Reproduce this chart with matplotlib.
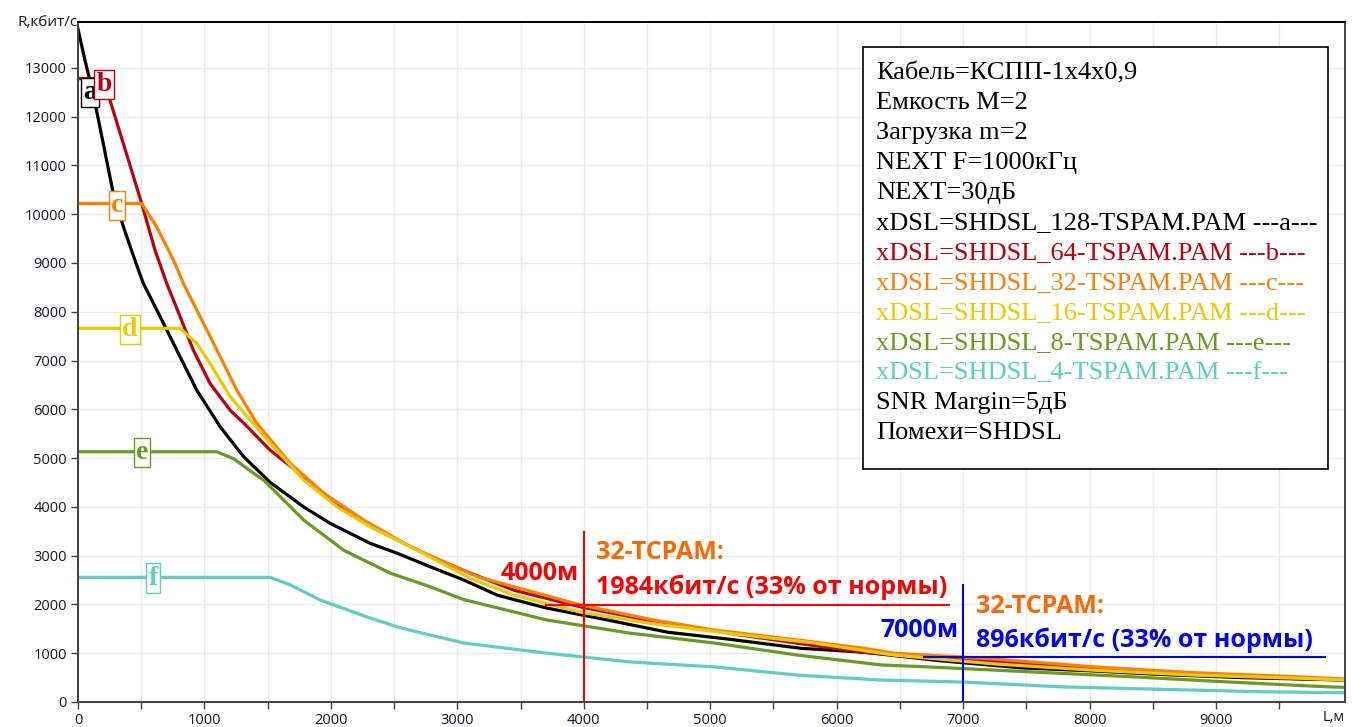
import numpy as np
import matplotlib.pyplot as plt
from matplotlib.patches import Rectangle

# Скорость R (кбит/с) в зависимости от длины линии L (м)
a_x = [0, 55, 120, 200, 280, 360, 450, 517, 650, 782, 940, 1125, 1310, 1521, 1785, 1996, 2313,
       2524, 2788, 3052, 3316, 3700, 4190, 4665, 5140, 5720, 6220, 6800, 7460, 8000, 8600, 9200, 10020]
a_y = [13800, 13160, 12470, 11450, 10420, 9740, 9060, 8580, 7900, 7210, 6390, 5640, 5030, 4500, 4000,
       3660, 3250, 3050, 2770, 2500, 2190, 1930, 1680, 1430, 1290, 1100, 1020, 850, 700, 640, 560, 500, 450]

b_x = [0, 200, 253, 359, 504, 610, 702, 808, 913, 1045, 1204, 1310, 1521, 1785, 2102, 2419, 2788,
       3105, 3450, 3975, 4505, 5245, 6195, 7000, 7800, 8600, 9400, 10020]
b_y = [12780, 12780, 12340, 11450, 10220, 9260, 8580, 7900, 7210, 6530, 5980, 5720, 5160, 4620, 3930,
       3460, 2980, 2640, 2290, 1950, 1680, 1370, 1020, 880, 730, 600, 500, 450]

c_x = [0, 504, 623, 755, 834, 966, 1125, 1257, 1415, 1679, 1943, 2260, 2630, 3158, 3450, 3975,
       4555, 5030, 5695, 6220, 6455, 7000, 7250, 8040, 8830, 9625, 10020]
c_y = [10220, 10220, 9740, 9060, 8580, 7900, 7080, 6390, 5710, 4890, 4280, 3730, 3180, 2570, 2360,
       1990, 1680, 1475, 1270, 1100, 1000, 920, 880, 720, 600, 520, 470]

d_x = [0, 808, 940, 1045, 1204, 1362, 1547, 1785, 2049, 2313, 2683, 3105, 3450, 3975, 4505, 5140,
       5820, 6455, 7250, 8040, 8830, 9625, 10020]
d_y = [7660, 7660, 7350, 6940, 6260, 5780, 5230, 4550, 4000, 3590, 3110, 2530, 2190, 1840, 1620,
       1410, 1210, 960, 780, 650, 550, 490, 450]

e_x = [0, 1098, 1230, 1389, 1468, 1600, 1785, 2102, 2471, 2788, 3050, 3710, 4370, 5030, 5695,
       6350, 6720, 7515, 8310, 9100, 9890, 10020]
e_y = [5130, 5130, 4990, 4690, 4550, 4210, 3730, 3110, 2640, 2360, 2100, 1680, 1410, 1210, 960,
       760, 720, 620, 520, 410, 310, 300]

f_x = [0, 1521, 1679, 1917, 2290, 2550, 3050, 3710, 4370, 5030, 5695, 6350, 6990, 7780, 8570, 9360, 10020]
f_y = [2555, 2555, 2400, 2090, 1740, 1520, 1210, 1000, 820, 720, 550, 450, 410, 310, 260, 210, 190]

series = [
    ("a", a_x, a_y, "#000000", 95, 12500),
    ("b", b_x, b_y, "#C00010", 206, 12660),
    ("c", c_x, c_y, "#FF7F00", 309, 10180),
    ("d", d_x, d_y, "#EBCB00", 412, 7640),
    ("e", e_x, e_y, "#6A9A1F", 507, 5120),
    ("f", f_x, f_y, "#5BCFC1", 594, 2540),
]

legend_lines = [
    ("Кабель=КСПП-1x4x0,9", "black"),
    ("Емкость M=2", "black"),
    ("Загрузка m=2", "black"),
    ("NEXT F=1000кГц", "black"),
    ("NEXT=30дБ", "black"),
    ("xDSL=SHDSL_128-TSPAM.PAM ---a---", "#000000"),
    ("xDSL=SHDSL_64-TSPAM.PAM ---b---", "#C00010"),
    ("xDSL=SHDSL_32-TSPAM.PAM ---c---", "#FF7F00"),
    ("xDSL=SHDSL_16-TSPAM.PAM ---d---", "#EBCB00"),
    ("xDSL=SHDSL_8-TSPAM.PAM ---e---", "#6A9A1F"),
    ("xDSL=SHDSL_4-TSPAM.PAM ---f---", "#5BCFC1"),
    ("SNR Margin=5дБ", "black"),
    ("Помехи=SHDSL", "black"),
]

# отметки 4000 м и 7000 м
mark1_L, mark1_R = 4000, 1984
mark2_L, mark2_R = 7000, 896

fig = plt.figure(figsize=(13.58, 7.27), dpi=100)
ax = fig.add_axes([0.0574, 0.0344, 0.933, 0.9353])

ax.set_xlim(0, 10020)
ax.set_ylim(0, 13940)
ax.set_xticks(np.arange(0, 9001, 1000))
ax.set_xticks(np.arange(500, 10001, 1000), minor=True)
ax.set_yticks(np.arange(0, 13001, 1000))
ax.grid(True, which="both", axis="x", color="#EBEBEB", lw=1)
ax.grid(True, which="major", axis="y", color="#EBEBEB", lw=1)
ax.set_axisbelow(True)
ax.tick_params(which="both", direction="out", length=5, width=1, color="#404040",
               labelsize=10.5, labelcolor="#15152A", pad=3)
for lbl in ax.get_xticklabels() + ax.get_yticklabels():
    lbl.set_family("Open Sans")
for s in ["left", "bottom", "right"]:
    ax.spines[s].set_color("#404040")
    ax.spines[s].set_linewidth(1.4)
ax.spines["top"].set_color("black")
ax.spines["top"].set_linewidth(1.4)

for name, xs, ys, col, lx, ly in series:
    ax.plot(xs, ys, color=col, lw=2.3, solid_joinstyle="round")
for name, xs, ys, col, lx, ly in series:
    ax.text(lx, ly, name, color=col, fontsize=20, fontweight="bold", family="Liberation Serif",
            ha="center", va="center", zorder=4,
            bbox=dict(boxstyle="square,pad=0.08", fc="white", ec=col, lw=1))

ax.text(0, 1.0, "R,кбит/с", transform=ax.transAxes, ha="right", va="center",
        fontsize=11, family="Open Sans", color="#15152A")
ax.text(0.991, -0.0115, "L,м", transform=ax.transAxes, ha="center", va="top",
        fontsize=10.5, family="Open Sans", color="#15152A")

# блок параметров
ax.add_patch(Rectangle((0.6196, 0.3426), 0.367, 0.6206, transform=ax.transAxes,
                       fc="white", ec="black", lw=1.2, zorder=5))
for i, (txt, col) in enumerate(legend_lines):
    ax.text(0.630, (702 - (73 + 30 * i)) / 680, txt, transform=ax.transAxes, color=col,
            fontsize=19, family="Liberation Serif", va="center", ha="left", zorder=6)

# аннотации
bold = dict(fontsize=18, fontweight="bold", family="Open Sans")
ax.plot([mark1_L, mark1_L], [0, 3480], color="#FF0000", lw=1.5)
ax.plot([3700, 6890], [mark1_R, mark1_R], color="#FF0000", lw=1.5)
ax.text(3960, 2640, f"{mark1_L}м", color="#FF0000", ha="right", va="center", **bold)
ax.text(4100, 3060, "32-TCPAM:", color="#FF6600", ha="left", va="center", **bold)
ax.text(4100, 2350, f"{mark1_R}кбит/с (33% от нормы)", color="#FF0000", ha="left", va="center", **bold)

ax.plot([mark2_L, mark2_L], [0, 2400], color="#0000FF", lw=1.5)
ax.plot([6690, 9860], [920, 920], color="#0000FF", lw=1.5)
ax.text(6960, 1460, f"{mark2_L}м", color="#0000FF", ha="right", va="center", **bold)
ax.text(7100, 1960, "32-TCPAM:", color="#FF6600", ha="left", va="center", **bold)
ax.text(7100, 1260, f"{mark2_R}кбит/с (33% от нормы)", color="#0000FF", ha="left", va="center", **bold)

plt.savefig("out.png", dpi=100)
